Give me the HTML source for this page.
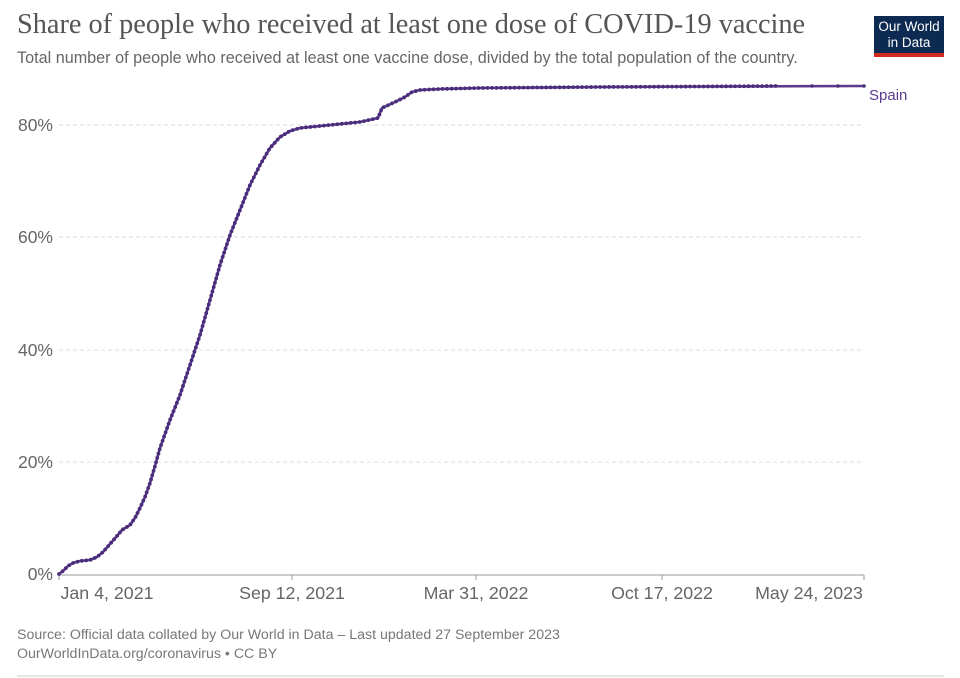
<!DOCTYPE html>
<html><head><meta charset="utf-8"><style>
body{margin:0;background:#fff;width:960px;height:678px;overflow:hidden;font-family:"Liberation Sans",sans-serif}
.t{position:absolute;left:17px;top:9px;font-family:"Liberation Serif",serif;font-size:28.3px;color:#555;white-space:nowrap}
.s{position:absolute;left:17px;top:49px;font-size:16.2px;color:#666;white-space:nowrap}
.logo{position:absolute;left:874px;top:16px;width:70px;background:#0d2a52;color:#fff;font-size:13.5px;line-height:16px;text-align:center;padding-top:3px;box-sizing:border-box;border-bottom:4px solid #d42b21;height:41px}
.f{position:absolute;left:17px;font-size:14.2px;color:#777;white-space:nowrap}
</style></head><body>
<div class="t">Share of people who received at least one dose of COVID-19 vaccine</div>
<div class="s">Total number of people who received at least one vaccine dose, divided by the total population of the country.</div>
<div class="logo">Our World<br>in Data</div>
<svg width="960" height="678" style="position:absolute;left:0;top:0">
<g stroke="#ddd" stroke-dasharray="4 3" stroke-width="1">
<line x1="59" x2="864" y1="125" y2="125"/><line x1="59" x2="864" y1="237" y2="237"/><line x1="59" x2="864" y1="350" y2="350"/><line x1="59" x2="864" y1="462" y2="462"/></g>
<line x1="59" x2="864" y1="575" y2="575" stroke="#999"/>
<g stroke="#999"><line x1="59" x2="59" y1="575" y2="580"/><line x1="292" x2="292" y1="575" y2="580"/><line x1="476" x2="476" y1="575" y2="580"/><line x1="662" x2="662" y1="575" y2="580"/><line x1="864" x2="864" y1="575" y2="580"/></g>
<g font-size="17.5" fill="#666" text-anchor="end">
<text x="53" y="131">80%</text><text x="53" y="243">60%</text><text x="53" y="356">40%</text><text x="53" y="468">20%</text><text x="53" y="580">0%</text></g>
<g font-size="17.8" fill="#666" text-anchor="middle">
<text x="107" y="599">Jan 4, 2021</text><text x="292" y="599">Sep 12, 2021</text><text x="476" y="599">Mar 31, 2022</text><text x="662" y="599">Oct 17, 2022</text><text x="809" y="599">May 24, 2023</text></g>
<polyline fill="none" stroke="#5b3a8e" stroke-width="2.6" stroke-linejoin="round" points="59,574 63,571 68,566 73,563 80,561 90,560 97,557 103,552 110,544 117,536 122,530 130,525 135,518 140,508 145,497 150,483 155,466 160,448 170,420 180,395 190,365 200,335 210,300 220,265 230,235 240,210 250,185 260,165 270,148 280,137 290,131 300,128 320,126 340,124 360,122 378,118 382,108 395,102 405,97 412,92 420,90 440,89 480,88 600,87 700,86.5 864,86"/>
<polyline fill="none" stroke="#4a2d7a" stroke-width="3.8" stroke-linecap="round" stroke-dasharray="0 4.5" points="59,574 63,571 68,566 73,563 80,561 90,560 97,557 103,552 110,544 117,536 122,530 130,525 135,518 140,508 145,497 150,483 155,466 160,448 170,420 180,395 190,365 200,335 210,300 220,265 230,235 240,210 250,185 260,165 270,148 280,137 290,131 300,128 320,126 340,124 360,122 378,118 382,108 395,102 405,97 412,92 420,90 440,89 480,88 600,87 700,86.5 780,86"/>
<g fill="#4a2d7a"><circle cx="812" cy="86" r="1.8"/><circle cx="838" cy="86" r="1.8"/><circle cx="864" cy="86" r="1.8"/></g>
<text x="869" y="100" font-size="15" fill="#5b3a8e">Spain</text>
<line x1="17" x2="944" y1="676" y2="676" stroke="#ccc"/>
</svg>
<div class="f" style="top:627px">Source: Official data collated by Our World in Data – Last updated 27 September 2023</div>
<div class="f" style="top:646px">OurWorldInData.org/coronavirus • CC BY</div>
</body></html>
